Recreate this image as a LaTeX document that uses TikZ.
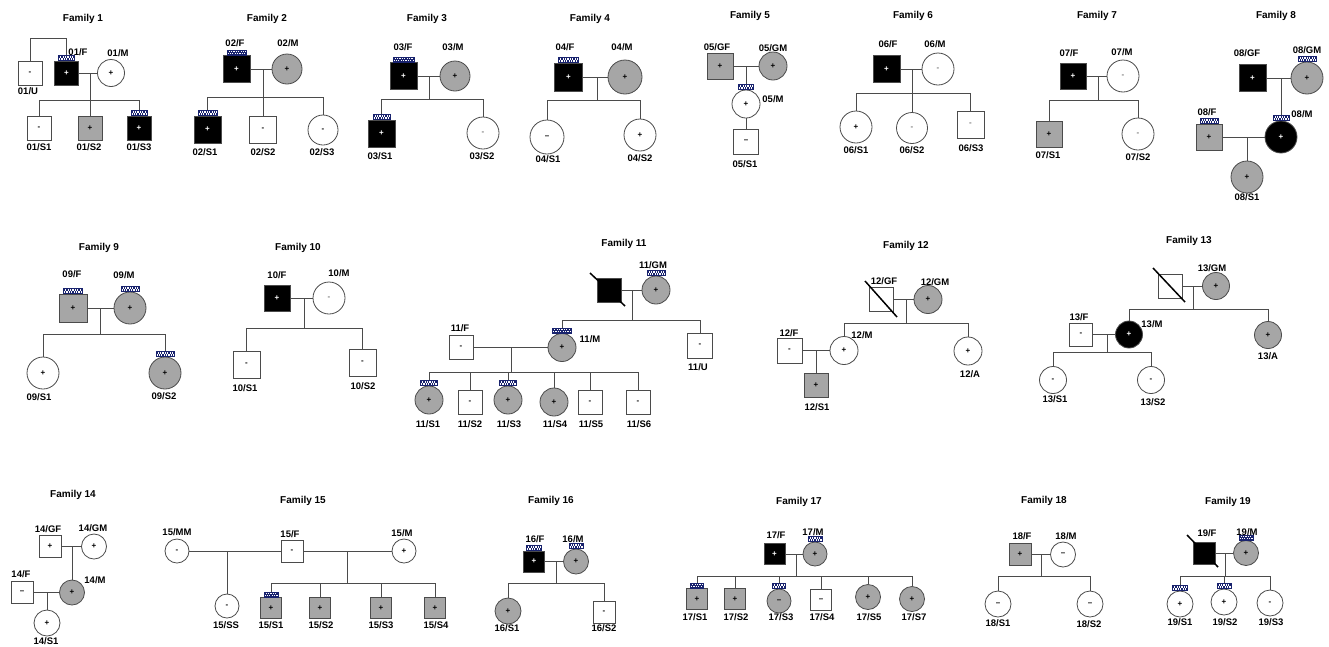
\documentclass[tikz,border=0pt]{standalone}
\usepackage{fontspec}
\setmainfont{Liberation Sans}
\definecolor{lc}{RGB}{75,75,75}
\definecolor{carrier}{RGB}{166,166,166}
\definecolor{navy}{RGB}{25,35,110}
\definecolor{dimsign}{RGB}{120,120,120}
\newcommand\labfont{\fontsize{9.5}{11}\selectfont\bfseries}
\newcommand\ttlfont{\fontsize{10}{12}\selectfont\bfseries}
\newcommand\signfont{\fontsize{8}{9}\selectfont\bfseries}
\newcommand\kidline[2]{\draw[ln] (#1.north |- #2) -- (#1.north);}
\tikzset{
 ln/.style={draw=lc, line width=0.9pt},
 sq/.style={rectangle, draw=lc, line width=0.8pt, minimum width=#1, minimum height=#1, inner sep=0pt, font=\signfont},
 ci/.style={circle, draw=lc, line width=0.8pt, minimum size=#1, inner sep=0pt, font=\signfont},
 blk/.style={fill=black, text=white},
 gry/.style={fill=carrier},
 wht/.style={fill=white},
 dim/.style={text=dimsign},
 lab/.style={font=\labfont, inner sep=0pt},
 ttl/.style={font=\ttlfont, inner sep=0pt},
 chk/.style={rectangle, draw=navy, line width=0.4pt, fill=navy, minimum width=#1, minimum height=5, inner sep=0pt, anchor=south,
   path picture={
     \foreach \i in {0,...,11}{
       \fill[white] ([xshift=\i*2.4pt+0.4pt, yshift=0.5pt]path picture bounding box.south west) rectangle +(1.2pt,1.7pt);
       \fill[white] ([xshift=\i*2.4pt+1.6pt, yshift=2.6pt]path picture bounding box.south west) rectangle +(1.2pt,1.7pt);
     }}},
 dec/.style={draw=black, line width=1.5pt},
}
\begin{document}
\begin{tikzpicture}[x=1pt,y=-1pt]
\fill[white] (0,0) rectangle (1329,646);
\useasboundingbox (0,0) rectangle (1329,646);

% ---------------- Family 1
\node[ttl] (t1) at (83,19) {Family 1};
\node[sq=24,wht] (u1) at (30,73) {-};
\node[sq=24,blk] (f1) at (66.5,73) {+};
\node[chk=16] (cf1) at (f1.north) {};
\node[ci=27,wht] (m1) at (111,73) {+};
\node[lab] (lu1) at (28,91) {01/U};
\node[lab] (lf1) at (78,52) {01/F};
\node[lab] (lm1) at (118,53) {01/M};
\node[sq=24,wht] (s11) at (39,128) {-};
\node[sq=24,gry] (s12) at (90,128) {+};
\node[sq=24,blk] (s13) at (139,128) {+};
\node[chk=16] (cs13) at (s13.north) {};
\node[lab] (ls11) at (39,147) {01/S1};
\node[lab] (ls12) at (89,147) {01/S2};
\node[lab] (ls13) at (139,147) {01/S3};
\coordinate (top1) at (30,38);
\draw[ln] (u1.north) -- (top1) -- (top1 -| cf1.north) -- (cf1.north);
\draw[ln] (f1) -- (m1);
\coordinate (d1) at (90,73); \coordinate (sb1) at (90,100);
\draw[ln] (d1) -- (sb1);
\draw[ln] (s11.north |- sb1) -- (cs13.north |- sb1);
\kidline{s11}{sb1}\kidline{s12}{sb1}\kidline{cs13}{sb1}

% ---------------- Family 2
\node[ttl] (t2) at (267,19) {Family 2};
\node[sq=27,blk] (f2) at (236.5,69) {+};
\node[chk=19] (cf2) at (f2.north) {};
\node[ci=30,gry] (m2) at (287,69) {+};
\node[lab] (lf2) at (235,43) {02/F};
\node[lab] (lm2) at (288,43) {02/M};
\node[sq=27,blk] (s21) at (207.5,129.5) {+};
\node[chk=19] (cs21) at (s21.north) {};
\node[sq=27,wht] (s22) at (263,129.5) {-};
\node[ci=30,wht] (s23) at (323,130) {-};
\node[lab] (ls21) at (205,152) {02/S1};
\node[lab] (ls22) at (263,152) {02/S2};
\node[lab] (ls23) at (322,152) {02/S3};
\draw[ln] (f2) -- (m2);
\coordinate (d2) at (263,69); \coordinate (sb2) at (263,97);
\draw[ln] (d2) -- (sb2);
\draw[ln] (cs21.north |- sb2) -- (s23.north |- sb2);
\kidline{cs21}{sb2}\kidline{s22}{sb2}\kidline{s23}{sb2}

% ---------------- Family 3
\node[ttl] (t3) at (427,19) {Family 3};
\node[sq=27,blk] (f3) at (403.5,76) {+};
\node[chk=21] (cf3) at (f3.north) {};
\node[ci=30,gry] (m3) at (455,76) {+};
\node[lab] (lf3) at (403,47) {03/F};
\node[lab] (lm3) at (453,47) {03/M};
\node[sq=27,blk] (s31) at (381.5,133.5) {+};
\node[chk=17] (cs31) at (s31.north) {};
\node[ci=32,wht,dim] (s32) at (483,133) {-};
\node[lab] (ls31) at (380,156) {03/S1};
\node[lab] (ls32) at (482,156) {03/S2};
\draw[ln] (f3) -- (m3);
\coordinate (d3) at (429,76); \coordinate (sb3) at (429,99);
\draw[ln] (d3) -- (sb3);
\draw[ln] (cs31.north |- sb3) -- (s32.north |- sb3);
\kidline{cs31}{sb3}\kidline{s32}{sb3}

% ---------------- Family 4
\node[ttl] (t4) at (590,19) {Family 4};
\node[sq=28,blk] (f4) at (568.5,77) {+};
\node[chk=20] (cf4) at (f4.north) {};
\node[ci=34,gry] (m4) at (625,77) {+};
\node[lab] (lf4) at (565,47) {04/F};
\node[lab] (lm4) at (622,47) {04/M};
\node[ci=34,wht] (s41) at (547,137) {--};
\node[ci=32,wht] (s42) at (640,135) {+};
\node[lab] (ls41) at (548,159) {04/S1};
\node[lab] (ls42) at (640,158) {04/S2};
\draw[ln] (f4) -- (m4);
\coordinate (d4) at (597,77); \coordinate (sb4) at (597,100);
\draw[ln] (d4) -- (sb4);
\draw[ln] (s41.north |- sb4) -- (s42.north |- sb4);
\kidline{s41}{sb4}\kidline{s42}{sb4}

% ---------------- Family 5
\node[ttl] (t5) at (750,16) {Family 5};
\node[sq=26,gry] (gf5) at (720,66) {+};
\node[ci=28,gry] (gm5) at (773,66) {+};
\node[lab] (lgf5) at (717,47) {05/GF};
\node[lab] (lgm5) at (773,48) {05/GM};
\node[ci=28,wht] (m5) at (746,104) {+};
\node[chk=15] (cm5) at (m5.north) {};
\node[lab] (lm5) at (773,99) {05/M};
\node[sq=25,wht] (s51) at (746,141.5) {--};
\node[lab] (ls51) at (745,164) {05/S1};
\draw[ln] (gf5) -- (gm5);
\coordinate (d5) at (746,66);
\draw[ln] (d5) -- (cm5.north);
\draw[ln] (m5) -- (s51);

% ---------------- Family 6
\node[ttl] (t6) at (913,16) {Family 6};
\node[sq=27,blk] (f6) at (886.5,69) {+};
\node[ci=32,wht,dim] (m6) at (938,69) {-};
\node[lab] (lf6) at (888,44) {06/F};
\node[lab] (lm6) at (935,44) {06/M};
\node[ci=32,wht] (s61) at (856,127) {+};
\node[ci=31,wht,dim] (s62) at (912,128) {-};
\node[sq=27,wht,dim] (s63) at (970.5,124.5) {-};
\node[lab] (ls61) at (856,150) {06/S1};
\node[lab] (ls62) at (912,150) {06/S2};
\node[lab] (ls63) at (971,148) {06/S3};
\draw[ln] (f6) -- (m6);
\coordinate (d6) at (912,69); \coordinate (sb6) at (912,93);
\draw[ln] (d6) -- (sb6);
\draw[ln] (s61.north |- sb6) -- (s63.north |- sb6);
\kidline{s61}{sb6}\kidline{s62}{sb6}\kidline{s63}{sb6}

% ---------------- Family 7
\node[ttl] (t7) at (1097,16) {Family 7};
\node[sq=26,blk] (f7) at (1073,76) {+};
\node[ci=32,wht,dim] (m7) at (1123,76) {-};
\node[lab] (lf7) at (1069,53) {07/F};
\node[lab] (lm7) at (1122,52) {07/M};
\node[sq=26,gry] (s71) at (1049,134.5) {+};
\node[ci=32,wht,dim] (s72) at (1138,134) {-};
\node[lab] (ls71) at (1048,155) {07/S1};
\node[lab] (ls72) at (1138,157) {07/S2};
\draw[ln] (f7) -- (m7);
\coordinate (d7) at (1098,76); \coordinate (sb7) at (1098,100);
\draw[ln] (d7) -- (sb7);
\draw[ln] (s71.north |- sb7) -- (s72.north |- sb7);
\kidline{s71}{sb7}\kidline{s72}{sb7}

% ---------------- Family 8
\node[ttl] (t8) at (1276,16) {Family 8};
\node[sq=27,blk] (gf8) at (1252.5,78) {+};
\node[ci=32,gry] (gm8) at (1307,78) {+};
\node[chk=18] (cgm8) at (gm8.north) {};
\node[lab] (lgf8) at (1247,53) {08/GF};
\node[lab] (lgm8) at (1307,50) {08/GM};
\node[ci=32,blk] (m8) at (1281,137) {+};
\node[chk=16] (cm8) at (m8.north) {};
\node[lab] (lm8) at (1302,114) {08/M};
\node[sq=26,gry] (f8) at (1209,137) {+};
\node[chk=18] (cf8) at (f8.north) {};
\node[lab] (lf8) at (1207,112) {08/F};
\node[ci=32,gry] (s81) at (1247,177) {+};
\node[lab] (ls81) at (1247,197) {08/S1};
\draw[ln] (gf8) -- (gm8);
\coordinate (d8) at (1281,78);
\draw[ln] (d8) -- (cm8.north);
\draw[ln] (f8) -- (m8);
\coordinate (d8b) at (1247,137);
\draw[ln] (d8b) -- (s81.north);

% ---------------- Family 9
\node[ttl] (t9) at (99,248) {Family 9};
\node[sq=28,gry] (f9) at (73,308) {+};
\node[chk=19] (cf9) at (f9.north) {};
\node[ci=32,gry] (m9) at (130,308) {+};
\node[chk=18] (cm9) at (m9.north) {};
\node[lab] (lf9) at (72,274) {09/F};
\node[lab] (lm9) at (124,275) {09/M};
\node[ci=32,wht] (s91) at (43,373) {+};
\node[ci=32,gry] (s92) at (165,373) {+};
\node[chk=18] (cs92) at (s92.north) {};
\node[lab] (ls91) at (39,397) {09/S1};
\node[lab] (ls92) at (164,396) {09/S2};
\draw[ln] (f9) -- (m9);
\coordinate (d9) at (100,308); \coordinate (sb9) at (100,334);
\draw[ln] (d9) -- (sb9);
\draw[ln] (s91.north |- sb9) -- (cs92.north |- sb9);
\kidline{s91}{sb9}\kidline{cs92}{sb9}

% ---------------- Family 10
\node[ttl] (t10) at (298,248) {Family 10};
\node[sq=26,blk] (f10) at (277,298) {+};
\node[ci=32,wht,dim] (m10) at (329,298) {-};
\node[lab] (lf10) at (277,275) {10/F};
\node[lab] (lm10) at (339,273) {10/M};
\node[sq=27,wht] (s101) at (246.5,364.5) {-};
\node[sq=27,wht] (s102) at (362.5,362.5) {-};
\node[lab] (ls101) at (245,388) {10/S1};
\node[lab] (ls102) at (363,386) {10/S2};
\draw[ln] (f10) -- (m10);
\coordinate (d10) at (304,298); \coordinate (sb10) at (304,328);
\draw[ln] (d10) -- (sb10);
\draw[ln] (s101.north |- sb10) -- (s102.north |- sb10);
\kidline{s101}{sb10}\kidline{s102}{sb10}

% ---------------- Family 11
\node[ttl] (t11) at (624,244) {Family 11};
\node[sq=24,blk] (gf11) at (609,290) {};
\draw[dec] (590,273) -- (625,306);
\node[ci=28,gry] (gm11) at (656,290) {+};
\node[chk=18] (cgm11) at (gm11.north) {};
\node[lab] (lgm11) at (653,265) {11/GM};
\node[ci=28,gry] (m11) at (562,347.5) {+};
\node[chk=19] (cm11) at (m11.north) {};
\node[lab] (lm11) at (590,339) {11/M};
\node[sq=25,wht] (u11) at (700,345.5) {-};
\node[lab] (lu11) at (698,367) {11/U};
\node[sq=24,wht] (f11) at (461,347.5) {-};
\node[lab] (lf11) at (460,328) {11/F};
\node[ci=28,gry] (s111) at (429,400) {+};
\node[chk=17] (cs111) at (s111.north) {};
\node[sq=24,wht] (s112) at (470,402) {-};
\node[ci=28,gry] (s113) at (508,400) {+};
\node[chk=17] (cs113) at (s113.north) {};
\node[ci=28,gry] (s114) at (554,402) {+};
\node[sq=24,wht] (s115) at (590,402) {-};
\node[sq=24,wht] (s116) at (638,402) {-};
\node[lab] (ls111) at (428,424) {11/S1};
\node[lab] (ls112) at (470,424) {11/S2};
\node[lab] (ls113) at (509,424) {11/S3};
\node[lab] (ls114) at (555,424) {11/S4};
\node[lab] (ls115) at (591,424) {11/S5};
\node[lab] (ls116) at (639,424) {11/S6};
\draw[ln] (gf11) -- (gm11);
\coordinate (d11) at (632,290); \coordinate (sb11) at (632,320);
\draw[ln] (d11) -- (sb11);
\draw[ln] (cm11.north |- sb11) -- (u11.north |- sb11);
\kidline{cm11}{sb11}\kidline{u11}{sb11}
\draw[ln] (f11) -- (m11);
\coordinate (d11b) at (511,347.5); \coordinate (sb11b) at (511,372);
\draw[ln] (d11b) -- (sb11b);
\draw[ln] (cs111.north |- sb11b) -- (s116.north |- sb11b);
\kidline{cs111}{sb11b}\kidline{s112}{sb11b}\kidline{cs113}{sb11b}
\kidline{s114}{sb11b}\kidline{s115}{sb11b}\kidline{s116}{sb11b}

% ---------------- Family 12
\node[ttl] (t12) at (906,246) {Family 12};
\node[sq=24,wht] (gf12) at (881,299.5) {};
\draw[dec] (865,281) -- (897,317);
\node[lab] (lgf12) at (884,281) {12/GF};
\node[ci=28,gry] (gm12) at (928,299.5) {+};
\node[lab] (lgm12) at (935,282) {12/GM};
\node[ci=28,wht] (m12) at (844,350.5) {+};
\node[lab] (lm12) at (862,335) {12/M};
\node[ci=28,wht] (a12) at (968,351) {+};
\node[lab] (la12) at (970,374) {12/A};
\node[sq=25,wht] (f12) at (789.5,350.5) {-};
\node[lab] (lf12) at (789,333) {12/F};
\node[sq=24,gry] (s121) at (816,385) {+};
\node[lab] (ls121) at (817,407) {12/S1};
\draw[ln] (gf12) -- (gm12);
\coordinate (d12) at (906,299.5); \coordinate (sb12) at (906,323);
\draw[ln] (d12) -- (sb12);
\draw[ln] (m12.north |- sb12) -- (a12.north |- sb12);
\kidline{m12}{sb12}\kidline{a12}{sb12}
\draw[ln] (f12) -- (m12);
\coordinate (d12b) at (816,350.5);
\draw[ln] (d12b) -- (s121.north);

% ---------------- Family 13
\node[ttl] (t13) at (1189,241) {Family 13};
\node[sq=24,wht] (gf13) at (1170,286) {};
\draw[dec] (1153,268) -- (1185,302);
\node[ci=27,gry] (gm13) at (1216,286) {+};
\node[lab] (lgm13) at (1212,268) {13/GM};
\node[ci=27,blk] (m13) at (1129,334.5) {+};
\node[lab] (lm13) at (1152,324) {13/M};
\node[ci=27,gry] (a13) at (1268,335) {+};
\node[lab] (la13) at (1268,356) {13/A};
\node[sq=23,wht] (f13) at (1081,334.5) {-};
\node[lab] (lf13) at (1079,317) {13/F};
\node[ci=27,wht] (s131) at (1053,380) {-};
\node[ci=27,wht] (s132) at (1151,380) {-};
\node[lab] (ls131) at (1055,399) {13/S1};
\node[lab] (ls132) at (1153,402) {13/S2};
\draw[ln] (gf13) -- (gm13);
\coordinate (d13) at (1193,286); \coordinate (sb13) at (1193,309);
\draw[ln] (d13) -- (sb13);
\draw[ln] (m13.north |- sb13) -- (a13.north |- sb13);
\kidline{m13}{sb13}\kidline{a13}{sb13}
\draw[ln] (f13) -- (m13);
\coordinate (d13b) at (1107,334.5); \coordinate (sb13b) at (1107,352);
\draw[ln] (d13b) -- (sb13b);
\draw[ln] (s131.north |- sb13b) -- (s132.north |- sb13b);
\kidline{s131}{sb13b}\kidline{s132}{sb13b}

% ---------------- Family 14
\node[ttl] (t14) at (73,495) {Family 14};
\node[sq=22,wht] (gf14) at (50,546.5) {+};
\node[ci=25,wht] (gm14) at (94,546.5) {+};
\node[lab] (lgf14) at (48,529) {14/GF};
\node[lab] (lgm14) at (93,528) {14/GM};
\node[ci=25,gry] (m14) at (72,592.5) {+};
\node[lab] (lm14) at (95,580) {14/M};
\node[sq=22,wht] (f14) at (22,592.5) {--};
\node[lab] (lf14) at (21,574) {14/F};
\node[ci=26,wht] (s141) at (47,623) {+};
\node[lab] (ls141) at (46,641) {14/S1};
\draw[ln] (gf14) -- (gm14);
\coordinate (d14) at (72,546.5);
\draw[ln] (d14) -- (m14.north);
\draw[ln] (f14) -- (m14);
\coordinate (d14b) at (47,592.5);
\draw[ln] (d14b) -- (s141.north);

% ---------------- Family 15
\node[ttl] (t15) at (303,501) {Family 15};
\node[ci=24,wht] (mm15) at (177,551) {-};
\node[lab] (lmm15) at (177,532) {15/MM};
\node[sq=22,wht] (f15) at (292,551) {-};
\node[lab] (lf15) at (290,534) {15/F};
\node[ci=24,wht] (m15) at (404,551) {+};
\node[lab] (lm15) at (402,533) {15/M};
\node[ci=24,wht] (ss15) at (227,606) {-};
\node[lab] (lss15) at (226,625) {15/SS};
\node[sq=21,gry] (s151) at (271,608) {+};
\node[chk=14] (cs151) at (s151.north) {};
\node[sq=21,gry] (s152) at (320,608) {+};
\node[sq=21,gry] (s153) at (381,608) {+};
\node[sq=21,gry] (s154) at (435,608) {+};
\node[lab] (ls151) at (271,625) {15/S1};
\node[lab] (ls152) at (321,625) {15/S2};
\node[lab] (ls153) at (381,625) {15/S3};
\node[lab] (ls154) at (436,625) {15/S4};
\draw[ln] (mm15) -- (f15);
\draw[ln] (f15) -- (m15);
\coordinate (d15a) at (227,551);
\draw[ln] (d15a) -- (ss15.north);
\coordinate (d15b) at (347,551); \coordinate (sb15) at (347,583);
\draw[ln] (d15b) -- (sb15);
\draw[ln] (cs151.north |- sb15) -- (s154.north |- sb15);
\kidline{cs151}{sb15}\kidline{s152}{sb15}\kidline{s153}{sb15}\kidline{s154}{sb15}

% ---------------- Family 16
\node[ttl] (t16) at (551,501) {Family 16};
\node[sq=21,blk] (f16) at (534,561.5) {+};
\node[chk=15] (cf16) at (f16.north) {};
\node[ci=25,gry] (m16) at (576,561.5) {+};
\node[chk=14] (cm16) at (m16.north) {};
\node[lab] (lf16) at (535,539) {16/F};
\node[lab] (lm16) at (573,539) {16/M};
\node[ci=26,gry] (s161) at (508,611) {+};
\node[sq=22,wht] (s162) at (604,612) {-};
\node[lab] (ls161) at (507,628) {16/S1};
\node[lab] (ls162) at (604,628) {16/S2};
\draw[ln] (f16) -- (m16);
\coordinate (d16) at (556,561.5); \coordinate (sb16) at (556,583);
\draw[ln] (d16) -- (sb16);
\draw[ln] (s161.north |- sb16) -- (s162.north |- sb16);
\kidline{s161}{sb16}\kidline{s162}{sb16}

% ---------------- Family 17
\node[ttl] (t17) at (799,502) {Family 17};
\node[sq=21,blk] (f17) at (774.5,554) {+};
\node[ci=24,gry] (m17) at (815,554) {+};
\node[chk=14] (cm17) at (m17.north) {};
\node[lab] (lf17) at (776,535) {17/F};
\node[lab] (lm17) at (813,532) {17/M};
\node[sq=21,gry] (s171) at (697,599) {+};
\node[chk=13] (cs171) at (s171.north) {};
\node[sq=21,gry] (s172) at (735,599) {+};
\node[ci=24,gry] (s173) at (779,601) {--};
\node[chk=13] (cs173) at (s173.north) {};
\node[sq=21,wht] (s174) at (821,600) {--};
\node[ci=25,gry] (s175) at (868,597) {+};
\node[ci=25,gry] (s177) at (912,599) {+};
\node[lab] (ls171) at (695,617) {17/S1};
\node[lab] (ls172) at (736,617) {17/S2};
\node[lab] (ls173) at (781,617) {17/S3};
\node[lab] (ls174) at (822,617) {17/S4};
\node[lab] (ls175) at (869,617) {17/S5};
\node[lab] (ls177) at (914,617) {17/S7};
\draw[ln] (f17) -- (m17);
\coordinate (d17) at (796,554); \coordinate (sb17) at (796,576);
\draw[ln] (d17) -- (sb17);
\draw[ln] (cs171.north |- sb17) -- (s177.north |- sb17);
\kidline{cs171}{sb17}\kidline{s172}{sb17}\kidline{cs173}{sb17}
\kidline{s174}{sb17}\kidline{s175}{sb17}\kidline{s177}{sb17}

% ---------------- Family 18
\node[ttl] (t18) at (1044,501) {Family 18};
\node[sq=22,gry] (f18) at (1020,554.5) {+};
\node[ci=25,wht] (m18) at (1063,554.5) {--};
\node[lab] (lf18) at (1022,536) {18/F};
\node[lab] (lm18) at (1066,536) {18/M};
\node[ci=26,wht] (s181) at (998,604) {--};
\node[ci=26,wht] (s182) at (1090,604) {--};
\node[lab] (ls181) at (998,623) {18/S1};
\node[lab] (ls182) at (1089,624) {18/S2};
\draw[ln] (f18) -- (m18);
\coordinate (d18) at (1041,554.5); \coordinate (sb18) at (1041,576);
\draw[ln] (d18) -- (sb18);
\draw[ln] (s181.north |- sb18) -- (s182.north |- sb18);
\kidline{s181}{sb18}\kidline{s182}{sb18}

% ---------------- Family 19
\node[ttl] (t19) at (1228,502) {Family 19};
\node[sq=22,blk] (f19) at (1204,553) {};
\draw[dec] (1187,535) -- (1218,567);
\node[ci=25,gry] (m19) at (1246,553) {+};
\node[chk=14] (cm19) at (m19.north) {};
\node[lab] (lf19) at (1207,533) {19/F};
\node[lab] (lm19) at (1247,532) {19/M};
\node[ci=26,wht] (s191) at (1180,604) {+};
\node[chk=15] (cs191) at (s191.north) {};
\node[ci=26,wht] (s192) at (1224,602) {+};
\node[chk=14] (cs192) at (s192.north) {};
\node[ci=26,wht] (s193) at (1270,603) {-};
\node[lab] (ls191) at (1180,622) {19/S1};
\node[lab] (ls192) at (1225,622) {19/S2};
\node[lab] (ls193) at (1271,622) {19/S3};
\draw[ln] (f19) -- (m19);
\coordinate (d19) at (1225,553); \coordinate (sb19) at (1225,576);
\draw[ln] (d19) -- (sb19);
\draw[ln] (cs191.north |- sb19) -- (s193.north |- sb19);
\kidline{cs191}{sb19}\kidline{cs192}{sb19}\kidline{s193}{sb19}
\end{tikzpicture}
\end{document}
